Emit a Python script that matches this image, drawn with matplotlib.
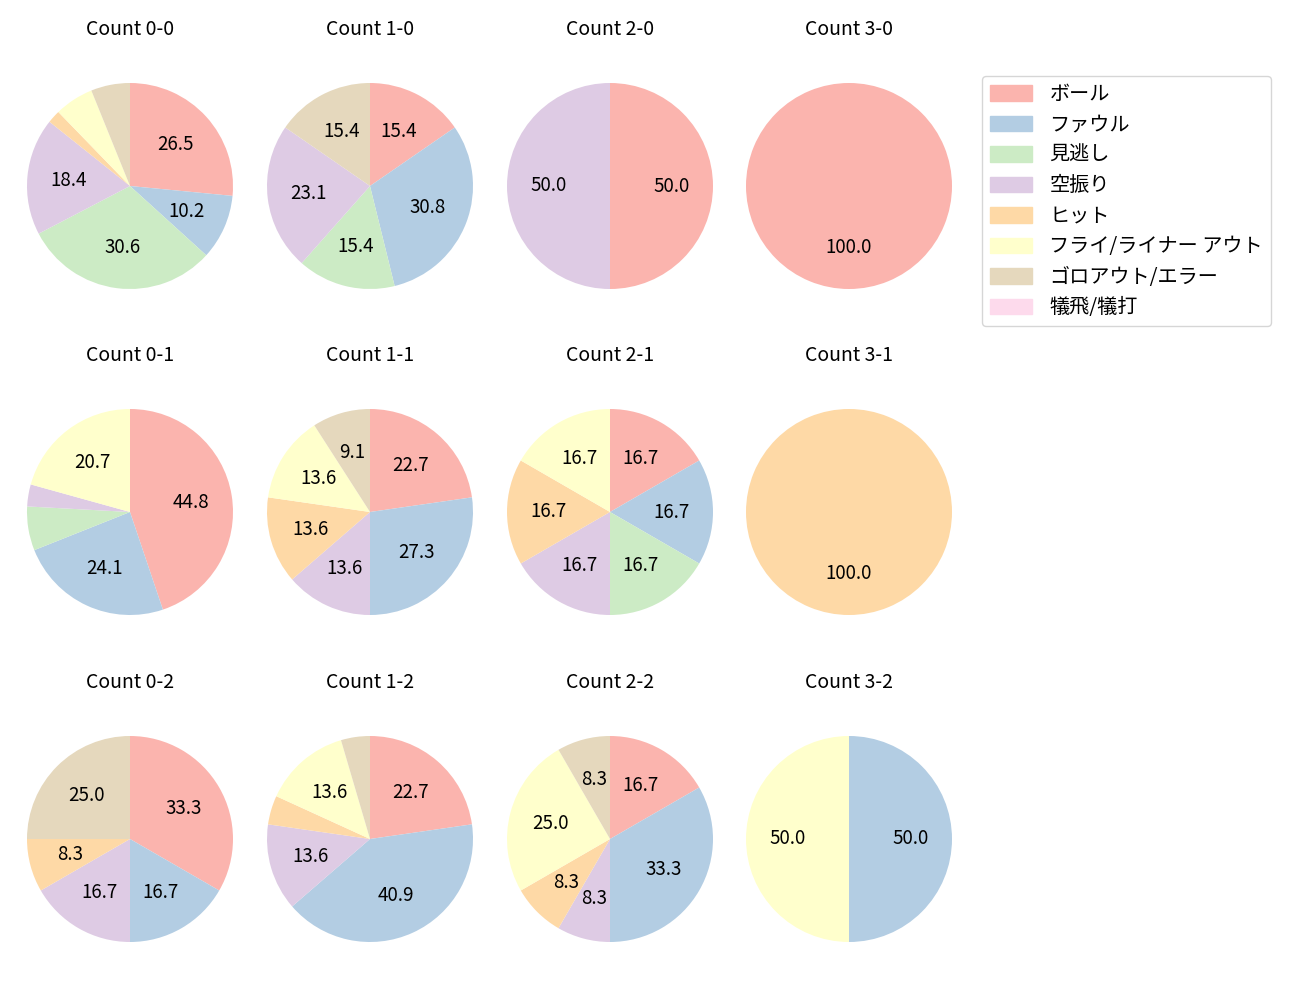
import numpy as np
import matplotlib
matplotlib.use("Agg")
from matplotlib import pyplot as plt

plt.rcParams['font.family'] = ['Noto Sans CJK JP', 'DejaVu Sans']

labels = ['ボール', 'ファウル', '見逃し', '空振り', 'ヒット',
          'フライ/ライナー アウト', 'ゴロアウト/エラー', '犠飛/犠打']

# pitch counts per result, order as in labels
count_0_0 = [13, 5, 15, 9, 1, 3, 3, 0]
count_1_0 = [2, 4, 2, 3, 0, 0, 2, 0]
count_2_0 = [1, 0, 0, 1, 0, 0, 0, 0]
count_3_0 = [1, 0, 0, 0, 0, 0, 0, 0]
count_0_1 = [13, 7, 2, 1, 0, 6, 0, 0]
count_1_1 = [5, 6, 0, 3, 3, 3, 2, 0]
count_2_1 = [1, 1, 1, 1, 1, 1, 0, 0]
count_3_1 = [0, 0, 0, 0, 1, 0, 0, 0]
count_0_2 = [4, 2, 0, 2, 1, 0, 3, 0]
count_1_2 = [5, 9, 0, 3, 1, 3, 1, 0]
count_2_2 = [2, 4, 0, 1, 1, 3, 1, 0]
count_3_2 = [0, 1, 0, 0, 0, 1, 0, 0]

grid = [
    [('0-0', count_0_0), ('1-0', count_1_0), ('2-0', count_2_0), ('3-0', count_3_0)],
    [('0-1', count_0_1), ('1-1', count_1_1), ('2-1', count_2_1), ('3-1', count_3_1)],
    [('0-2', count_0_2), ('1-2', count_1_2), ('2-2', count_2_2), ('3-2', count_3_2)],
]

colors = plt.get_cmap('Pastel1').colors[:8]

W, H = 1300, 1000
fig = plt.figure(figsize=(13, 10), dpi=100)

radius_px = 103
box = radius_px * 2.5
col_cx = [130, 370, 610, 849]
row_cy = [186, 512, 839]


def autopct(p):
    return f'{p:.1f}' if p >= 7 else ''


for r, row in enumerate(grid):
    for c, (name, vals) in enumerate(row):
        cx, cy = col_cx[c], row_cy[r]
        ax = fig.add_axes([(cx - box / 2) / W, 1 - (cy + box / 2) / H, box / W, box / H])
        vals = np.array(vals, dtype=float)
        ax.pie(vals, colors=colors, startangle=90, counterclock=False,
               autopct=autopct, pctdistance=0.6,
               textprops={'fontsize': 13.5})
        ax.set_title(f'Count {name}', fontsize=14, pad=16)

handles = [plt.Rectangle((0, 0), 1, 1, color=col) for col in colors]
fig.legend(handles, labels, loc='upper left', bbox_to_anchor=(982 / W, 1 - 76 / H),
           borderaxespad=0, fontsize=14.5, handlelength=2.1, handleheight=0.8,
           labelspacing=0.47, handletextpad=0.85, borderpad=0.4)

fig.savefig('out.png', dpi=100)
